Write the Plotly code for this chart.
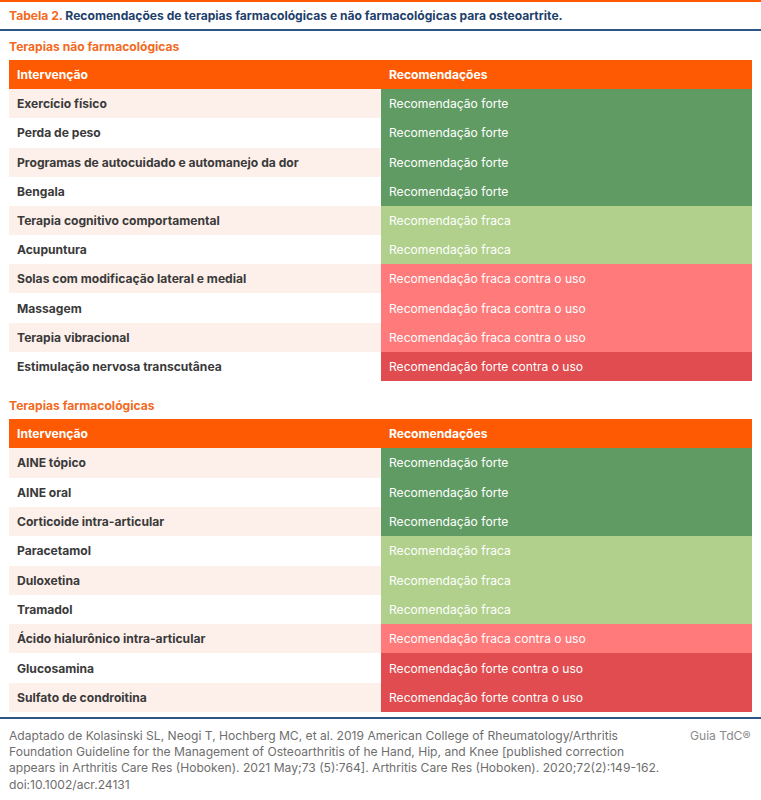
import plotly.graph_objects as go

W, H = 761, 800

title_label = "Tabela 2."
title_text = "Recomendações de terapias farmacológicas e não farmacológicas para osteoartrite."
section1 = "Terapias não farmacológicas"
section2 = "Terapias farmacológicas"
headers = ["Intervenção", "Recomendações"]

nonpharm_interventions = [
    "Exercício físico", "Perda de peso", "Programas de autocuidado e automanejo da dor",
    "Bengala", "Terapia cognitivo comportamental", "Acupuntura",
    "Solas com modificação lateral e medial", "Massagem", "Terapia vibracional",
    "Estimulação nervosa transcutânea",
]
nonpharm_recs = [
    "Recomendação forte", "Recomendação forte", "Recomendação forte", "Recomendação forte",
    "Recomendação fraca", "Recomendação fraca",
    "Recomendação fraca contra o uso", "Recomendação fraca contra o uso",
    "Recomendação fraca contra o uso", "Recomendação forte contra o uso",
]
pharm_interventions = [
    "AINE tópico", "AINE oral", "Corticoide intra-articular", "Paracetamol",
    "Duloxetina", "Tramadol", "Ácido hialurônico intra-articular", "Glucosamina",
    "Sulfato de condroitina",
]
pharm_recs = [
    "Recomendação forte", "Recomendação forte", "Recomendação forte",
    "Recomendação fraca", "Recomendação fraca", "Recomendação fraca",
    "Recomendação fraca contra o uso", "Recomendação forte contra o uso",
    "Recomendação forte contra o uso",
]
footnote_lines = [
    "Adaptado de Kolasinski SL, Neogi T, Hochberg MC, et al. 2019 American College of Rheumatology/Arthritis",
    "Foundation Guideline for the Management of Osteoarthritis of he Hand, Hip, and Knee [published correction",
    "appears in Arthritis Care Res (Hoboken). 2021 May;73 (5):764]. Arthritis Care Res (Hoboken). 2020;72(2):149-162.",
    "doi:10.1002/acr.24131",
]
brand = "Guia TdC®"

# colour codes for the heatmap cells
CODES = ["white", "pink", "header",
         "Recomendação forte", "Recomendação fraca",
         "Recomendação fraca contra o uso", "Recomendação forte contra o uso"]
CODE_COLORS = ["#ffffff", "#fdf0ea", "#fd5a03", "#5f9b62", "#b0d08c", "#ff7a7a", "#e04c4f"]

ORANGE = "#fd5a03"
ORANGE_TXT = "#f26a22"
NAVY = "#1e3f6b"
FONT = "Inter"
FS = 12.1


def py(px):
    return 1 - px / H


def px_x(px):
    return px / W


n_codes = len(CODES)
colorscale = []
for i, c in enumerate(CODE_COLORS):
    colorscale.append([i / n_codes, c])
    colorscale.append([(i + 1) / n_codes, c])


def table_z(interventions, recs):
    z = [[CODES.index("header"), CODES.index("header")]]
    for i, r in enumerate(recs):
        left = CODES.index("pink") if i % 2 == 0 else CODES.index("white")
        z.append([left, CODES.index(r)])
    return z


fig = go.Figure()
annotations = []

tables = [
    (nonpharm_interventions, nonpharm_recs, "x", "y", 60, 381),
    (pharm_interventions, pharm_recs, "x", "y2", 419, 712),
]

for interventions, recs, xa, ya, top, bottom in tables:
    z = table_z(interventions, recs)
    fig.add_trace(go.Heatmap(
        z=z, x=[0, 1], y=list(range(len(z))),
        xaxis=xa, yaxis=ya,
        colorscale=colorscale, zmin=-0.5, zmax=n_codes - 0.5,
        showscale=False, hoverinfo="skip", xgap=0, ygap=0,
    ))
    yref = ya
    for col, h in enumerate(headers):
        annotations.append(dict(
            x=col - 0.5, y=0, xref=xa, yref=yref, xanchor="left", yanchor="middle",
            xshift=6, showarrow=False, text="<b>%s</b>" % h,
            font=dict(family=FONT, size=FS, color="white")))
    for i, (iv, r) in enumerate(zip(interventions, recs)):
        annotations.append(dict(
            x=-0.5, y=i + 1, xref=xa, yref=yref, xanchor="left", yanchor="middle",
            xshift=6, showarrow=False, text="<b>%s</b>" % iv,
            font=dict(family=FONT, size=FS, color="#3a3a3a")))
        annotations.append(dict(
            x=0.5, y=i + 1, xref=xa, yref=yref, xanchor="left", yanchor="middle",
            xshift=6, showarrow=False, text=r,
            font=dict(family=FONT, size=FS, color="white")))

shapes = [
    dict(type="rect", xref="paper", yref="paper", x0=0, x1=1, y0=py(2), y1=py(0),
         fillcolor=ORANGE, line=dict(width=0)),
    dict(type="line", xref="paper", yref="paper", x0=0, x1=1, y0=py(30), y1=py(30),
         line=dict(color="#2b5585", width=2)),
    dict(type="line", xref="paper", yref="paper", x0=0, x1=1, y0=py(718), y1=py(718),
         line=dict(color="#2b5585", width=2)),
]

annotations += [
    dict(x=px_x(7), y=py(15), xref="paper", yref="paper", xanchor="left", yanchor="middle",
         showarrow=False, align="left",
         text="<b><span style='color:%s'>%s</span> %s</b>" % (ORANGE_TXT, title_label, title_text),
         font=dict(family=FONT, size=FS, color=NAVY)),
    dict(x=px_x(7), y=py(46), xref="paper", yref="paper", xanchor="left", yanchor="middle",
         showarrow=False, text="<b>%s</b>" % section1,
         font=dict(family=FONT, size=FS, color=ORANGE_TXT)),
    dict(x=px_x(7), y=py(405), xref="paper", yref="paper", xanchor="left", yanchor="middle",
         showarrow=False, text="<b>%s</b>" % section2,
         font=dict(family=FONT, size=FS, color=ORANGE_TXT)),
    dict(x=px_x(753), y=py(735), xref="paper", yref="paper", xanchor="right", yanchor="middle",
         showarrow=False, align="right", text=brand,
         font=dict(family=FONT, size=FS, color="#8a8a8a")),
]
for k, line in enumerate(footnote_lines):
    annotations.append(dict(
        x=px_x(7), y=py(735 + 16.4 * k), xref="paper", yref="paper",
        xanchor="left", yanchor="middle", showarrow=False, text=line,
        font=dict(family=FONT, size=FS, color="#6e6e6e")))

axis_hidden = dict(visible=False, showgrid=False, zeroline=False, fixedrange=True)
fig.update_layout(
    width=W, height=H,
    margin=dict(l=0, r=0, t=0, b=0),
    paper_bgcolor="white", plot_bgcolor="white",
    xaxis=dict(domain=[px_x(9), px_x(752)], range=[-0.5, 1.5], **axis_hidden),
    yaxis=dict(domain=[py(381), py(60)], range=[10.5, -0.5], **axis_hidden),
    yaxis2=dict(domain=[py(712), py(419)], range=[9.5, -0.5], anchor="x", **axis_hidden),
    shapes=shapes, annotations=annotations,
    showlegend=False,
)

fig.write_html("out.html", config={"displayModeBar": False},
               post_script="document.body.style.margin='0';")
